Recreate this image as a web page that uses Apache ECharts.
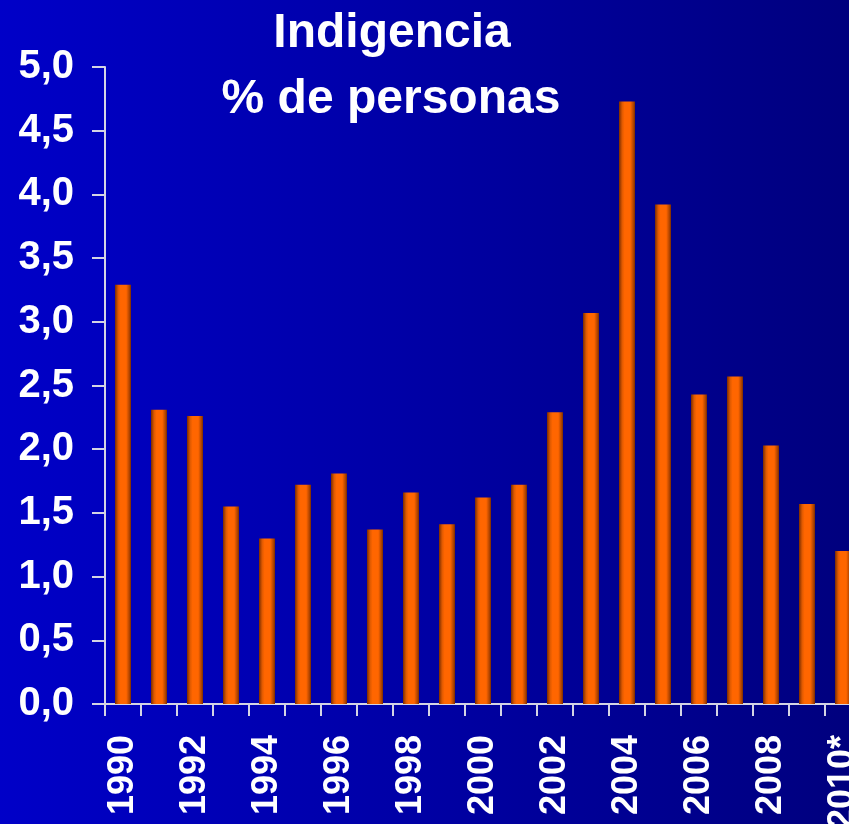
<!DOCTYPE html>
<html>
<head>
<meta charset="utf-8">
<script src="https://cdn.jsdelivr.net/npm/echarts@6/dist/echarts.min.js"></script>
<style>
html,body{margin:0;padding:0;}
#chart{width:849px;height:824px;background:linear-gradient(90deg,#0000c8 0%,#0000a8 45%,#00007e 100%);}
</style>
</head>
<body>
<div id="chart"></div>
<script>
const categories = ['1990','1991','1992','1993','1994','1995','1996','1997','1998','1999','2000','2001','2002','2003','2004','2005','2006','2007','2008','2009','2010*'];
const values = [3.29,2.31,2.26,1.55,1.30,1.72,1.81,1.37,1.66,1.41,1.62,1.72,2.29,3.07,4.73,3.92,2.43,2.57,2.03,1.57,1.20];
const titleLines = ['Indigencia','% de personas'];
const yMin = 0, yMax = 5, yStep = 0.5;

const font = '"Liberation Sans", Arial, sans-serif';
const chart = echarts.init(document.getElementById('chart'), null, {renderer:'canvas'});
chart.setOption({
  backgroundColor: 'transparent',
  animation: false,
  graphic: [
    {type:'text', x:392, y:34, style:{text:titleLines[0], fill:'#ffffff', font:'bold 48px ' + font, textAlign:'center', textVerticalAlign:'middle'}},
    {type:'text', x:391, y:100, style:{text:titleLines[1], fill:'#ffffff', font:'bold 48px ' + font, textAlign:'center', textVerticalAlign:'middle'}}
  ],
  grid: {left:105, right:-12, top:67, bottom:120, containLabel:false, outerBoundsMode:'none'},
  xAxis: {
    type:'category',
    data: categories,
    boundaryGap: true,
    axisLine: {show:true, lineStyle:{color:'#d4d4e4', width:2}},
    axisTick: {show:true, interval:0, length:12, lineStyle:{color:'#d4d4e4', width:2}},
    axisLabel: {interval:1, rotate:90, margin:31, color:'#ffffff', fontSize:36, fontWeight:'bold', fontFamily:font, hideOverlap:false}
  },
  yAxis: {
    type:'value',
    min:yMin, max:yMax, interval:yStep,
    axisLine: {show:true, lineStyle:{color:'#d4d4e4', width:2}},
    axisTick: {show:true, length:13, lineStyle:{color:'#d4d4e4', width:2}},
    splitLine: {show:false},
    axisLabel: {margin:31, color:'#ffffff', fontSize:40, fontWeight:'bold', fontFamily:font,
      formatter: v => v.toFixed(1).replace('.', ',')}
  },
  series: [{
    type:'bar',
    data: values,
    barWidth: 16,
    itemStyle: {
      color: {type:'linear', x:0, y:0, x2:1, y2:0, colorStops:[
        {offset:0, color:'#7a2c00'},
        {offset:0.2, color:'#e05a00'},
        {offset:0.35, color:'#ff6600'},
        {offset:0.7, color:'#ff6600'},
        {offset:0.9, color:'#b04400'},
        {offset:1, color:'#7a2c00'}
      ]}
    }
  }]
});
</script>
</body>
</html>
